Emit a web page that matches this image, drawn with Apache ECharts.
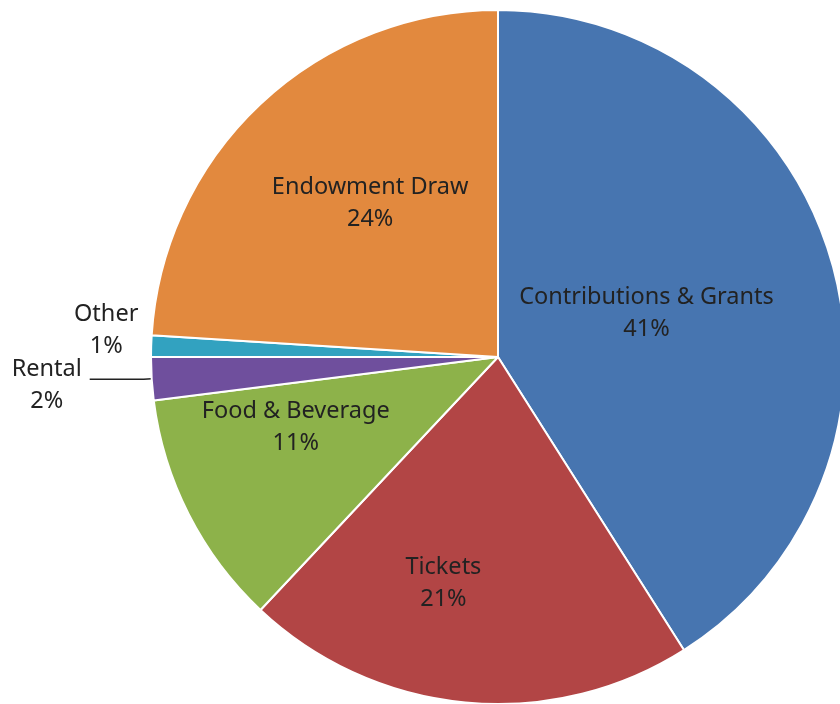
<!DOCTYPE html>
<html>
<head>
<meta charset="utf-8">
<script src="https://cdn.jsdelivr.net/npm/echarts@6/dist/echarts.min.js"></script>
<style>html,body{margin:0;padding:0;background:#fff}#c{width:840px;height:704px}</style>
</head>
<body>
<div id="c"></div>
<script>
var categories = ['Contributions & Grants', 'Tickets', 'Food & Beverage', 'Rental', 'Other', 'Endowment Draw'];
var values = [41, 21, 11, 2, 1, 24];
var colors = ['#4775b0', '#b24545', '#8db24a', '#6f4f9d', '#32a2c0', '#e2893e'];
var labelPositions = ['inside', 'inside', 'inside', 'outside', 'outside', 'inside'];
var labelShift = [[-21, 6], [-38, 51], [-45, -10], [-38, 6], [22, -16], [-7, -25]];
var showLine = [false, false, false, true, false, false];

var chart = echarts.init(document.getElementById('c'));
var data = categories.map(function (name, i) {
  return {
    name: name,
    value: values[i],
    itemStyle: { color: colors[i] },
    label: { position: labelPositions[i] },
    labelLine: { show: showLine[i], length: 8, length2: 54, lineStyle: { color: '#222', width: 1.5 } }
  };
});
chart.setOption({
  animation: false,
  series: [{
    type: 'pie',
    center: [498, 357],
    radius: 347,
    startAngle: 90,
    clockwise: true,
    avoidLabelOverlap: false,
    percentPrecision: 0,
    itemStyle: { borderColor: '#fff', borderWidth: 2 },
    label: {
      formatter: '{b}\n{d}%',
      fontFamily: 'Noto Sans',
      fontSize: 23.5,
      lineHeight: 32,
      color: '#222',
      align: 'center'
    },
    labelLayout: function (p) {
      var s = labelShift[p.dataIndex];
      return { dx: s[0], dy: s[1], align: 'center' };
    },
    data: data
  }]
});
</script>
</body>
</html>
